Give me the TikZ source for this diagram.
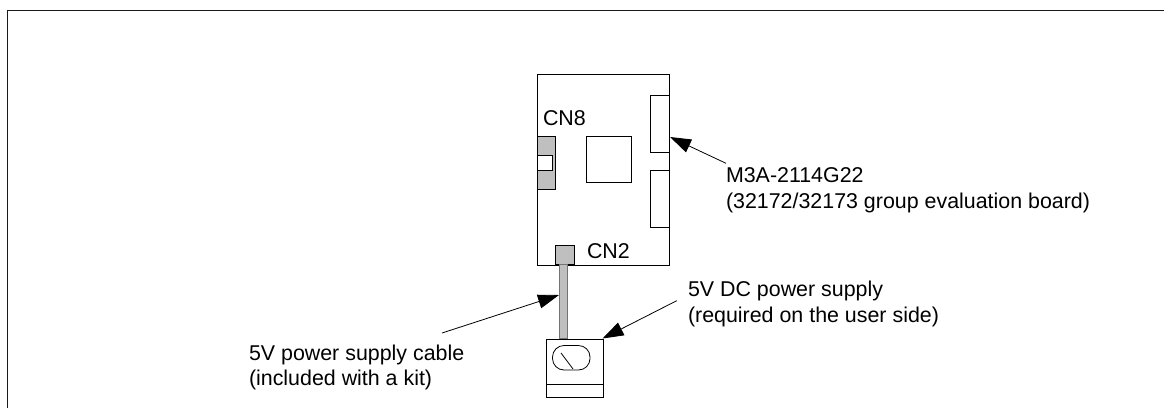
\documentclass[tikz,border=0pt]{standalone}
\usepackage{fontspec}
\setmainfont{Liberation Sans}
\usetikzlibrary{arrows.meta}
\tikzset{
  x=1pt,y=-1pt,
  part/.style={draw=black,line width=0.8pt,inner sep=0pt,outer sep=0pt,anchor=north west,fill=white},
  conn/.style={part,fill=black!25},
  lbl/.style={inner sep=0pt,outer sep=0pt,anchor=north west,align=left,font=\fontsize{21.4}{25.6}\selectfont},
  pointer/.style={draw=black,line width=0.8pt,-{Triangle[length=21pt,width=14pt]},shorten >=0pt}
}
\newcommand{\boxat}[6]{\node[#1,minimum width=#4pt,minimum height=#5pt] (#2) at #3 {#6};}
\begin{document}
\begin{tikzpicture}
\useasboundingbox (0,0) rectangle (1164,408);
\coordinate (frameBL) at (7.5,408);
\coordinate (frameTL) at (7.5,10.5);
\coordinate (frameTR) at (1164,10.5);
\draw[line width=1pt,black!90] (frameBL) -- (frameTL) -- (frameTR);
% board
\boxat{part}{board}{(537,74)}{132}{191}{}
\boxat{part}{hdrA}{(650,95)}{19}{57}{}
\boxat{part}{hdrB}{(650,170)}{19}{57}{}
\boxat{part}{chip}{(586,136)}{45}{46}{}
\boxat{conn}{cneight}{(537,136)}{18.5}{53}{}
\boxat{part}{notch}{(537,155.5)}{15}{14.5}{}
% cable and supply
\boxat{part}{supply}{(546,339)}{57}{58}{}
\coordinate (dividerL) at (546,384);
\coordinate (dividerR) at (603,384);
\draw[black,line width=0.8pt] (dividerL) -- (dividerR);
\node[part,minimum width=37.5pt,minimum height=24.5pt,rounded corners=11.5pt] (dial) at (552.5,345.5) {};
\coordinate (needleA) at (561,353);
\coordinate (needleB) at (573,369);
\draw[line width=0.8pt] (needleA) -- (needleB);
\boxat{conn}{cntwo}{(555.7,245.7)}{19}{19}{}
\node[part,fill=black!25,draw=black!55,minimum width=8pt,minimum height=74pt] (cable) at (559.5,264.7) {};
% labels
\node[lbl] (lblcneight) at (543,110.5) {CN8};
\node[lbl] (lblcntwo) at (587,244) {CN2};
\node[lbl] (lblboard) at (726,168) {M3A-2114G22\\(32172/32173 group evaluation board)};
\node[lbl] (lblsupply) at (688,281.3) {5V DC power supply\\(required on the user side)};
\node[lbl] (lblcable) at (249,344.7) {5V power supply cable\\(included with a kit)};
% pointers
\coordinate (tipboard) at (670,137);
\coordinate (startboard) at (726,163.3);
\coordinate (tipsupply) at (602.5,338.5);
\coordinate (startsupply) at (676.7,300.7);
\coordinate (tipcable) at (559,295);
\coordinate (startcable) at (442,333);
\draw[pointer] (startboard) -- (tipboard);
\draw[pointer] (startsupply) -- (tipsupply);
\draw[pointer] (startcable) -- (tipcable);
\end{tikzpicture}
\end{document}
